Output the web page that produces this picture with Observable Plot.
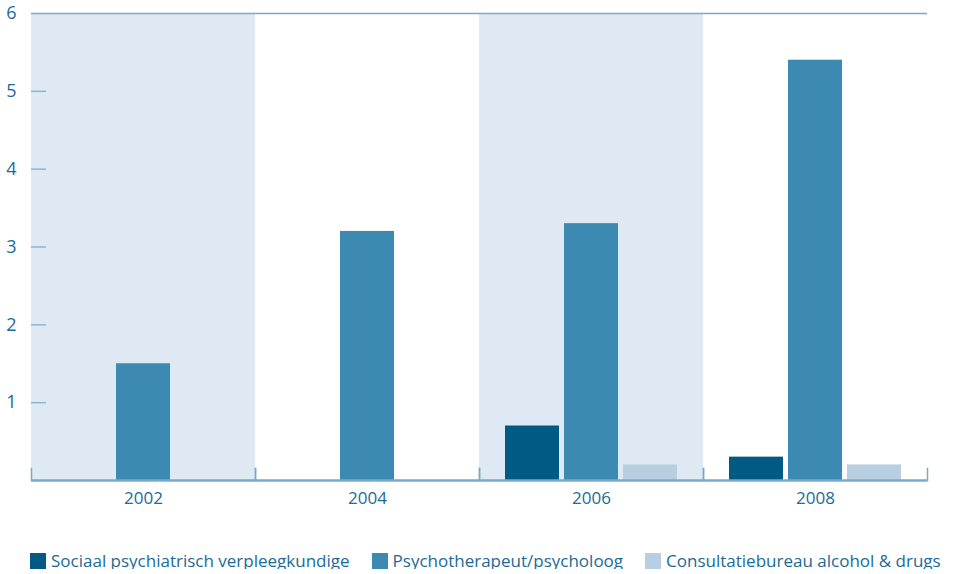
<!DOCTYPE html>
<html><head><meta charset="utf-8">
<script src="https://cdn.jsdelivr.net/npm/d3@7"></script>
<script src="https://cdn.jsdelivr.net/npm/@observablehq/plot@0.6"></script>
<style>
body{margin:0;background:#fff;font-family:"Open Sans",sans-serif;}
#legend{display:flex;align-items:center;padding:23px 0 0 30px;color:#1b6a97;font-size:17px;line-height:16px;}
.item{display:flex;align-items:center;margin-right:22px;white-space:nowrap;}
.sw{width:16px;height:16px;margin-right:5px;flex:none;}
</style></head><body><div id="chart"></div><div id="legend"></div>
<script>
const years = ["2002","2004","2006","2008"];
const shadedYears = ["2002","2006"];
const series = ["Sociaal psychiatrisch verpleegkundige","Psychotherapeut/psycholoog","Consultatiebureau alcohol & drugs"];
const colors = ["#005a83","#3c8ab2","#b7cfe1"];
const spv = [null,null,0.7,0.3];
const psy = [1.5,3.2,3.3,5.4];
const cad = [null,null,0.2,0.2];
const yTicks = [1,2,3,4,5,6];
const tickMarks = [1,2,3,4,5];

const textColor = "#1b6a97";
const lineColor = "#78aacb";

const rows = [];
[spv,psy,cad].forEach((vals,si)=>vals.forEach((v,yi)=>{ if(v!=null) rows.push({year:years[yi], series:series[si], value:v}); }));

const plot = Plot.plot({
  width:957, height:530, marginTop:13, marginBottom:50, marginLeft:30, marginRight:30,
  style:{fontFamily:"'Open Sans', sans-serif", fontSize:"17px", color:textColor, background:"#fff"},
  fx:{domain:years, padding:0, label:null},
  x:{domain:series, paddingInner:0.085, paddingOuter:0.44, axis:null},
  y:{domain:[0,6], axis:null},
  color:{domain:series, range:colors},
  marks:[
    Plot.barY(shadedYears, {fx:d=>d, y1:0, y2:6, fill:"#dfe9f3"}),
    Plot.barY(rows, {fx:"year", x:"series", y:"value", fill:"series"}),
    Plot.ruleY([6], {stroke:lineColor, strokeWidth:1.5}),
    Plot.ruleY([0], {stroke:lineColor, strokeWidth:2.5}),
    Plot.frame({anchor:"left", stroke:lineColor, strokeWidth:1.5, insetTop:455}),
    Plot.frame({anchor:"right", stroke:lineColor, strokeWidth:1.5, insetTop:455}),
    Plot.axisY({ticks:tickMarks, tickSize:-15, tickFormat:()=>"", stroke:"#8ab6d2", strokeWidth:1.5, label:null}),
    Plot.axisY({ticks:yTicks, tickSize:0, tickPadding:15, tickFormat:"d", fill:textColor, fontSize:18, label:null}),
    Plot.axisFx({anchor:"bottom", tickSize:0, tickPadding:11, fill:textColor, fontSize:17, label:null})
  ]
});
document.getElementById("chart").appendChild(plot);

const legend = document.getElementById("legend");
series.forEach((s,i)=>{
  const it = document.createElement("div"); it.className="item";
  const sw = document.createElement("div"); sw.className="sw"; sw.style.background=colors[i];
  const t = document.createElement("span"); t.textContent=s;
  it.appendChild(sw); it.appendChild(t); legend.appendChild(it);
});
</script></body></html>
